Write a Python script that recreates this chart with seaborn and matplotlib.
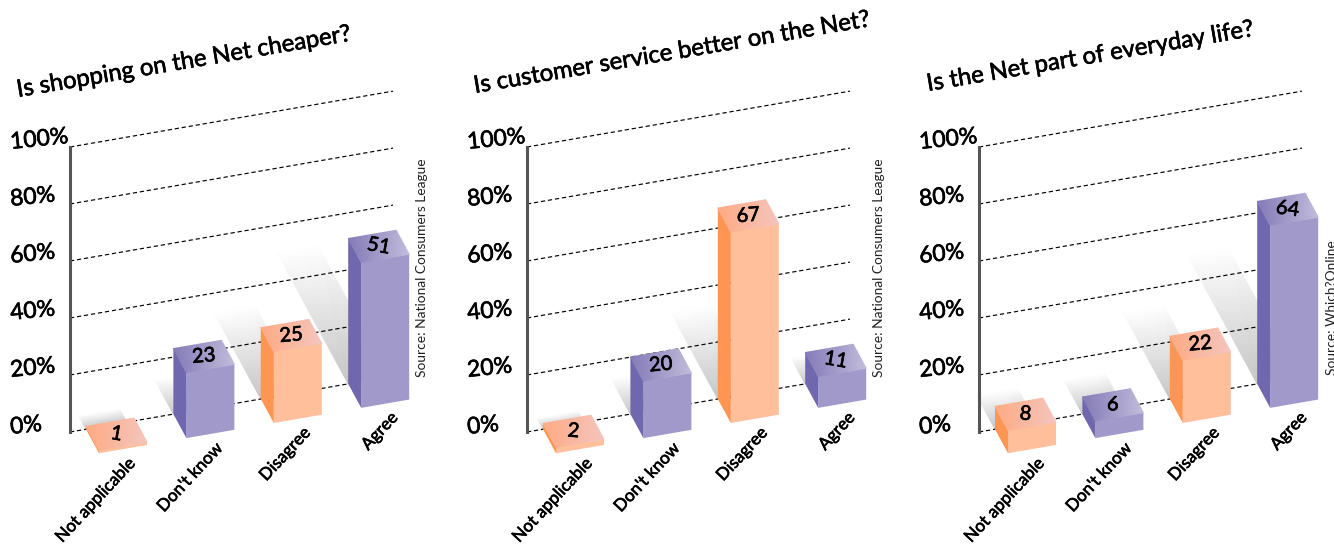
import matplotlib
matplotlib.use("Agg")
import matplotlib.patheffects as pe
import matplotlib.pyplot as plt
import numpy as np
import seaborn as sns
from matplotlib.collections import QuadMesh
from matplotlib.colors import LinearSegmentedColormap, Normalize
from matplotlib.transforms import Affine2D, ScaledTranslation

categories = ["Not applicable", "Don't know", "Disagree", "Agree"]
shopping_values = [1, 23, 25, 51]
service_values = [2, 20, 67, 11]
everyday_values = [8, 6, 22, 64]
percent_ticks = [0, 20, 40, 60, 80, 100]

titles = [
    "Is shopping on the Net cheaper?",
    "Is customer service better on the Net?",
    "Is the Net part of everyday life?",
]
sources = [
    "Source: National Consumers League",
    "Source: National Consumers League",
    "Source: Which?Online",
]

# Layout, in pixels of the 1334x547 canvas
W, H = 1334, 547
AXIS_X = [70, 527, 979]
AXIS_TOP, AXIS_BOTTOM = 147, 432
PLANE_W = 323
CAT_STEP = 87.4
FIRST_CAT = 40
BAR_W = 48
SLOPE = 0.173
DEPTH_PX = (13, 24)
TITLE_AT = [(18, 97), (475, 93), (928, 91)]
SOURCE_DX = [352, 352, 353]
SOURCE_BOTTOM = [377, 377, 375]

# Decoration: floor-shadow lengths (px) and tilt of the printed numbers
shadow_reach = [[13, 34, 86, 131], [11, 35, 87, 26], [34, 34, 86, 129]]
number_tilt = [[-10, 5, 5, -10], [-5, 5, 5, -10], [-5, -5, 5, -8]]

FRONT = {"o": "#FFBF9B", "p": "#A299CB"}
SIDE = {"o": "#FF9552", "p": "#7068AE"}
TOP = {
    "o": LinearSegmentedColormap.from_list("top_o", ["#FFA87E", "#F4C6C0"]),
    "p": LinearSegmentedColormap.from_list("top_p", ["#7D74B3", "#C4BFDD"]),
}
SHADOW = LinearSegmentedColormap.from_list("shadow", ["#FFFFFF", "#C4C4C4"])
bar_tone = ["o", "p", "o", "p"]
HEAVIER = [pe.withStroke(linewidth=0.45, foreground="black")]

sns.set_theme(style="white")
plt.rcParams["font.family"] = ["Lato", "DejaVu Sans"]

fig = plt.figure(figsize=(W / 100, H / 100), dpi=100)
PX_Y = (AXIS_BOTTOM - AXIS_TOP) / 100
X_LEFT = -FIRST_CAT / CAT_STEP
SHEAR = SLOPE * CAT_STEP / PX_Y
DX, DY = DEPTH_PX[0] / CAT_STEP, -DEPTH_PX[1] / PX_Y


def project(x, v, depth=0.0):
    """Data position on the sloped back wall, pushed forward by `depth`."""
    return x + depth * DX, v + SHEAR * (x - X_LEFT) + depth * DY


def shaded_quad(ax, xs, ys, shade, cmap, zorder):
    """Add a four-corner quad whose colour blends smoothly between its corners."""
    mesh = QuadMesh(np.dstack([xs, ys]), shading="gouraud", cmap=cmap,
                    norm=Normalize(0, 1), transform=ax.transData, zorder=zorder)
    mesh.set_array(shade.ravel())
    mesh.set_clip_on(False)
    ax.add_collection(mesh, autolim=False)


def draw_panel(i, values):
    ax = fig.add_axes([AXIS_X[i] / W, (H - AXIS_BOTTOM) / H, PLANE_W / W,
                       (AXIS_BOTTOM - AXIS_TOP) / H])
    palette = {c: FRONT[t] for c, t in zip(categories, bar_tone)}
    positions = list(range(len(categories)))
    sns.barplot(x=positions, y=values, hue=categories, palette=palette,
                hue_order=categories, width=BAR_W / CAT_STEP, saturation=1,
                dodge=False, legend=False, ax=ax)

    wall = Affine2D.from_values(1, SHEAR, 0, 1, 0, -SHEAR * X_LEFT)
    front = wall + Affine2D().translate(DX, DY)
    x_right = X_LEFT + PLANE_W / CAT_STEP

    for v in percent_ticks:
        ax.plot([X_LEFT, x_right], [v, v], color="black", lw=0.85, ls=(0, (3.6, 2.4)),
                transform=wall + ax.transData, clip_on=False, zorder=2)

    for k, bar in enumerate(list(ax.patches)):
        x0, w, h = bar.get_x(), bar.get_width(), bar.get_height()
        tone = bar_tone[k]

        # floor shadow thrown backwards from the foot of the bar
        d = -shadow_reach[i][k] / DEPTH_PX[1]
        sw = 0.85 * w
        sx = np.array([[x0, x0 + sw], [x0, x0 + sw]])
        sd = np.array([[0.0, 0.0], [d, d]])
        px, py = project(sx, np.zeros_like(sx), sd)
        shaded_quad(ax, px, py, np.array([[1.0, 1.0], [0.0, 0.0]]), SHADOW, 1)

        # front face is the seaborn bar itself, slid forward on the sloped floor
        bar.set_transform(front + ax.transData)
        bar.set_linewidth(0)
        bar.set_clip_on(False)
        bar.set_zorder(3)

        # left side face
        corners = [project(x0, 0, 0), project(x0, h, 0), project(x0, h, 1), project(x0, 0, 1)]
        ax.fill(*zip(*corners), color=SIDE[tone], lw=0, clip_on=False, zorder=3)

        # top face with a soft diagonal shade
        tx = np.array([[x0, x0 + w], [x0, x0 + w]])
        td = np.array([[0.0, 0.0], [1.0, 1.0]])
        qx, qy = project(tx, np.full_like(tx, h), td)
        shaded_quad(ax, qx, qy, np.array([[0.1, 0.75], [0.25, 1.0]]), TOP[tone], 3.1)

        lx, ly = project(x0 + w / 2, h, 0.5)
        ax.text(lx, ly, str(values[k]), ha="center", va="center", fontsize=14.5, color="black",
                rotation=number_tilt[i][k], rotation_mode="anchor", zorder=4,
                path_effects=HEAVIER)

    ax.set_xlim(X_LEFT, x_right)
    ax.set_ylim(0, 100)
    ax.set_ylabel("")
    ax.set_xticks(positions)
    ax.set_xticklabels(categories)
    ax.set_yticks(percent_ticks)
    ax.set_yticklabels([f"{v}%" for v in percent_ticks])
    ax.tick_params(axis="both", length=0)
    ax.tick_params(axis="y", pad=43, labelsize=16.5, labelcolor="black")
    ax.tick_params(axis="x", pad=0, labelsize=12.3, labelcolor="black")

    lift = ScaledTranslation(0, 4.5 / 100, fig.dpi_scale_trans)
    for lab in ax.get_yticklabels():
        lab.set_ha("left")
        lab.set_va("center")
        lab.set_rotation(6)
        lab.set_rotation_mode("anchor")
        lab.set_path_effects(HEAVIER)
        lab.set_transform(lab.get_transform() + lift)

    # end each category name just under its own bar, following the floor slope
    for k, lab in enumerate(ax.get_xticklabels()):
        lab.set_rotation(47)
        lab.set_rotation_mode("anchor")
        lab.set_ha("right")
        lab.set_va("center")
        lab.set_path_effects(HEAVIER)
        shift = ScaledTranslation(23 / 100, (-28 + k * SLOPE * CAT_STEP) / 100, fig.dpi_scale_trans)
        lab.set_transform(lab.get_transform() + shift)

    for side in ("top", "right", "bottom"):
        ax.spines[side].set_visible(False)
    ax.spines["left"].set_color("#555555")
    ax.spines["left"].set_linewidth(2.2)
    ax.patch.set_alpha(0)

    tx, ty = TITLE_AT[i]
    title = ax.set_title(titles[i], loc="left", fontsize=17.2, color="black", rotation=9.6,
                         rotation_mode="anchor", ha="left", va="baseline",
                         x=(tx - AXIS_X[i]) / PLANE_W,
                         y=(AXIS_BOTTOM - ty) / (AXIS_BOTTOM - AXIS_TOP), pad=0)
    title.set_path_effects(HEAVIER)

    ax.text((SOURCE_DX[i]) / PLANE_W, (AXIS_BOTTOM - SOURCE_BOTTOM[i]) / (AXIS_BOTTOM - AXIS_TOP),
            sources[i], transform=ax.transAxes, rotation=90, ha="center", va="bottom",
            fontsize=9.9, color="#222222", clip_on=False)


for idx, series in enumerate([shopping_values, service_values, everyday_values]):
    draw_panel(idx, series)

fig.savefig("out.png", dpi=100, facecolor="white")
